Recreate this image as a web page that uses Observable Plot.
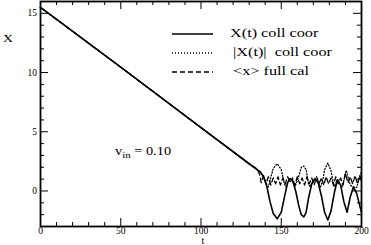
<!DOCTYPE html>
<html><head><meta charset="utf-8">
<script src="https://cdn.jsdelivr.net/npm/d3@7"></script>
<script src="https://cdn.jsdelivr.net/npm/@observablehq/plot@0.6"></script>
<style>
body{margin:0;background:#fff;}
#wrap{width:371px;height:245px;}
svg text{font-family:"Liberation Serif","Times New Roman",serif;}
</style></head><body><div id="wrap"></div>
<script>
// X(t) collective coordinate (solid)
const solidT = [0,50,100,130,135,137,139,141,143,145,147.5,150,152,154,155.5,157,159,161,162.5,164,165.5,167,169,171,173,175,177,179,181,183,185,187,189,191,193,195,197,199,200];
const solidX = [15.5,10.45,5.35,2.3,1.8,1.6,1.2,0.4,-0.9,-1.9,-2.35,-1.8,-0.5,0.7,1.05,0.9,0.0,-1.3,-2.0,-2.2,-1.8,-0.6,0.6,1.05,0.7,-0.4,-1.8,-2.45,-1.7,-0.2,0.95,0.5,-0.9,-1.8,-0.5,0.35,-0.2,-1.3,-1.8];
// |X(t)| collective coordinate (dotted)
const dotT = [0,50,100,130,135,137,139,141,142,143,145,147.5,150,152,153,154,155.5,157,158.5,160,161,162.5,164,165.5,167,168,169,171,173,174.5,176,177,179,181,183,185,187,188,189,190.5,192,193,194.5,197,199,200];
const dotX = [15.5,10.45,5.35,2.3,1.8,1.6,1.2,0.5,0.35,0.9,1.9,2.3,1.8,0.6,0.35,0.7,1.05,0.9,0.35,0.9,1.3,2.0,2.1,1.8,0.6,0.35,0.6,1.05,0.7,0.35,1.0,1.8,2.35,1.7,0.35,0.95,0.5,0.35,0.9,1.75,1.0,0.5,0.35,0.3,1.3,1.6];
// <x> full calculation (dashed)
const dashT = [0,50,100,130,135,136.5,137.5,139,140.5,142,143.5,145,146.5,148,149.5,151,152.5,154,155.5,157,158.5,160,161.5,163,164.5,166,167.5,169,170.5,172,173.5,175,176.5,178,179.5,181,182.5,184,185.5,187,188.5,190,191.5,193,194.5,196,197.5,199,200];
const dashX = [15.5,10.45,5.35,2.3,1.85,1.4,0.7,1.3,0.6,1.2,0.5,1.1,0.6,1.2,0.5,1.1,0.6,1.2,0.7,1.1,0.5,1.2,0.6,1.1,0.5,1.2,0.6,1.1,0.5,1.2,0.6,1.1,0.5,1.2,0.6,1.1,0.5,1.2,0.6,1.1,0.5,1.5,0.7,1.2,0.6,1.3,0.6,1.3,0.8];
const xTicks = [0,50,100,150,200];
const yTicks = [0,5,10,15];
const xMinor = [10,20,30,40,60,70,80,90,110,120,130,140,160,170,180,190];
const yMinor = [-2,-1,1,2,3,4,6,7,8,9,11,12,13,14];
const legendLabels = ["X(t) coll coor", "|X(t)|\u00a0 coll coor", "<x> full cal"];
const xLabel = "t", yLabel = "X";

const W = 371, H = 245, mt = 1, mb = 19, ml = 40, mr = 10;
const fw = W - ml - mr, fh = H - mt - mb;
const toRows = (T, V) => T.map((t, i) => ({t, v: V[i]}));

const svg = Plot.plot({
  width: W, height: H,
  marginTop: mt, marginBottom: mb, marginLeft: ml, marginRight: mr,
  style: {fontFamily: "Liberation Serif, serif", fontSize: "9.5px", background: "white", color: "black"},
  x: {domain: [0, 200], ticks: xTicks, tickSize: 0, tickPadding: 0.5, label: null},
  y: {domain: [-3, 16], ticks: yTicks, tickSize: 0, tickPadding: 3.5, label: null},
  marks: [
    Plot.ruleX(xTicks, {x: d => d, insetTop: fh - 8, strokeWidth: 1}),
    Plot.ruleX(xTicks, {x: d => d, insetBottom: fh - 8, strokeWidth: 1}),
    Plot.ruleX(xMinor, {x: d => d, insetTop: fh - 4, strokeWidth: 1}),
    Plot.ruleX(xMinor, {x: d => d, insetBottom: fh - 4, strokeWidth: 1}),
    Plot.ruleY(yTicks, {y: d => d, insetRight: fw - 8, strokeWidth: 1}),
    Plot.ruleY(yTicks, {y: d => d, insetLeft: fw - 8, strokeWidth: 1}),
    Plot.ruleY(yMinor, {y: d => d, insetRight: fw - 4, strokeWidth: 1}),
    Plot.ruleY(yMinor, {y: d => d, insetLeft: fw - 4, strokeWidth: 1}),
    Plot.line(toRows(dashT, dashX), {x: "t", y: "v", stroke: "black", strokeWidth: 1.3, strokeDasharray: "5,3"}),
    Plot.line(toRows(dotT, dotX), {x: "t", y: "v", stroke: "black", strokeWidth: 1.3, strokeDasharray: "1,2"}),
    Plot.line(toRows(solidT, solidX), {x: "t", y: "v", stroke: "black", strokeWidth: 1.6}),
    Plot.frame({stroke: "black", strokeWidth: 1.8})
  ]
});

const s = d3.select(svg);
const g = s.append("g").attr("text-anchor", "start");
// axis labels
g.append("text").attr("transform", "translate(3,42) scale(1.25,1)").attr("font-size", 11).text(yLabel);
g.append("text").attr("x", 203).attr("y", 244).attr("text-anchor", "middle").attr("font-size", 10).text(xLabel);
// legend
const dashes = [null, "1,2", "5,3"];
const rowsY = [34, 53, 72];
const textX = [230, 233, 233];
legendLabels.forEach((lab, i) => {
  const ln = g.append("line").attr("x1", 172).attr("x2", 213).attr("y1", rowsY[i]).attr("y2", rowsY[i])
    .attr("stroke", "black").attr("stroke-width", i === 0 ? 1.6 : 1.3);
  if (dashes[i]) ln.attr("stroke-dasharray", dashes[i]);
  g.append("text").attr("transform", `translate(${textX[i]},${rowsY[i] + 3}) scale(1.25,1)`)
    .attr("font-size", 13).style("white-space", "pre").text(lab);
});
// v_in annotation
const vt = g.append("text").attr("transform", "translate(115,155) scale(1.2,1)").attr("font-size", 12);
vt.append("tspan").text("v");
vt.append("tspan").attr("font-size", 9).attr("dy", 3).text("in");
vt.append("tspan").attr("dy", -3).text(" = 0.10");

document.getElementById("wrap").appendChild(svg);
</script>
</body></html>
